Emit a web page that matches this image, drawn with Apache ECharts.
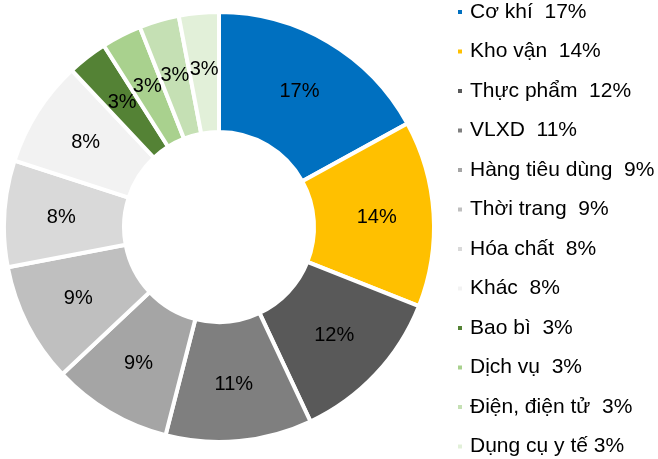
<!DOCTYPE html>
<html>
<head>
<meta charset="utf-8">
<script src="https://cdn.jsdelivr.net/npm/echarts@6/dist/echarts.min.js"></script>
<style>
  html, body { margin: 0; padding: 0; background: #fff; }
  #chart { width: 658px; height: 459px; }
</style>
</head>
<body>
<div id="chart"></div>
<script>
// ngành và tỷ trọng (%)
const sectors = ['Cơ khí', 'Kho vận', 'Thực phẩm', 'VLXD', 'Hàng tiêu dùng', 'Thời trang',
  'Hóa chất', 'Khác', 'Bao bì', 'Dịch vụ', 'Điện, điện tử', 'Dụng cụ y tế'];
const shares = [17, 14, 12, 11, 9, 9, 8, 8, 3, 3, 3, 3];
const colors = ['#0070C0', '#FFC000', '#595959', '#7F7F7F', '#A5A5A5', '#BFBFBF',
  '#D9D9D9', '#F2F2F2', '#548235', '#A9D18E', '#C5E0B4', '#E2F0D9'];

const myChart = echarts.init(document.getElementById('chart'));

const option = {
  animation: false,
  color: colors,
  textStyle: { fontFamily: 'Liberation Sans, Arial, sans-serif' },
  legend: {
    orient: 'vertical',
    left: 456,
    top: 1.5,
    padding: 0,
    itemWidth: 6,
    itemHeight: 6,
    itemGap: 18.5,
    icon: 'rect',
    data: sectors,
    textStyle: { fontSize: 21, color: '#000', lineHeight: 21, padding: [0, 0, 0, 2] },
    formatter: (name) => {
      const i = sectors.indexOf(name);
      // nhãn cuối chỉ có một khoảng trắng
      const sep = i === sectors.length - 1 ? ' ' : '  ';
      return name + sep + shares[i] + '%';
    }
  },
  series: [
    {
      type: 'pie',
      center: [219, 227],
      radius: [95, 215],
      startAngle: 90,
      clockwise: true,
      avoidLabelOverlap: false,
      itemStyle: { borderColor: '#fff', borderWidth: 4 },
      label: {
        show: true,
        position: 'inside',
        color: '#000',
        fontSize: 20,
        formatter: (p) => shares[p.dataIndex] + '%'
      },
      labelLayout: { hideOverlap: false },
      labelLine: { show: false },
      emphasis: { disabled: true },
      data: sectors.map((name, i) => ({ name, value: shares[i] }))
    }
  ]
};

myChart.setOption(option);
</script>
</body>
</html>
